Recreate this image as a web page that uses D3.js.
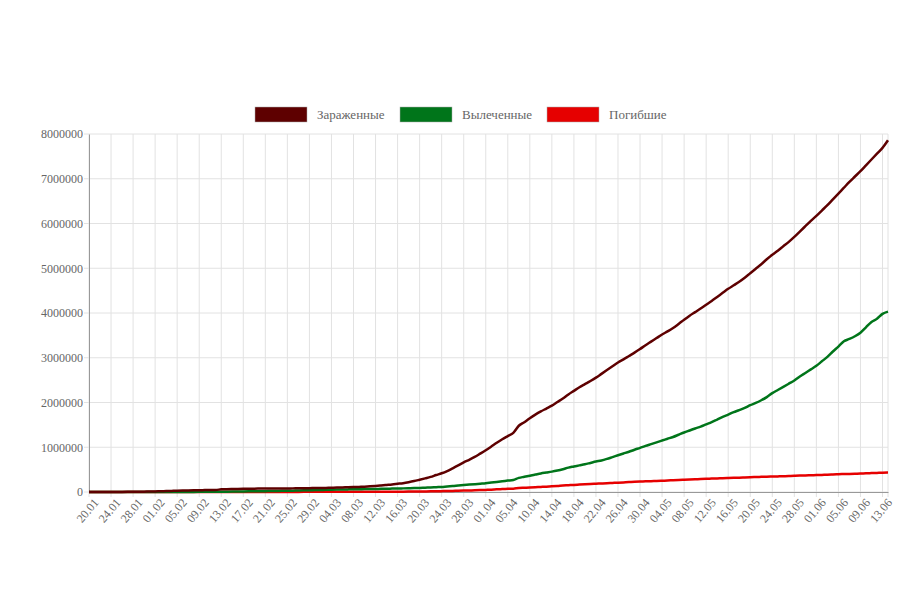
<!DOCTYPE html>
<html><head><meta charset="utf-8">
<script src="https://cdn.jsdelivr.net/npm/d3@7"></script>
<style>body{margin:0;background:#fff}text{font-family:"Liberation Serif",serif}</style>
</head><body><div id="chart"></div>
<script>
const startDate = new Date(2020, 0, 20, 12);
const fmt = d3.timeFormat("%d.%m");
// source data has no entry for 07.04
const labels = d3.range(147).map(i => fmt(d3.timeDay.offset(startDate, i))).filter(d => d !== "07.04");
const dayCount = labels.length;

// thousands
const infected = [0.3,0.4,0.6,0.7,0.9,1.4,2.1,2.9,5.6,6.2,8.2,9.9,
12,17,20,24,28,31,34,37,40,43,45,45,60,64,67,69,71,73,75,76,77,78,78,79,80,81,82,84,86,
88,90,92,95,98,102,106,110,114,119,126,135,146,157,168,183,198,219,244,274,305,337,379,418,468,530,594,661,720,783,857,
933,1015,1100,1180,1250,1320,1480,1560,1650,1730,1800,1865,1930,2010,2090,2180,2260,2340,2410,2480,2555,2640,2725,2810,2895,2965,3040,3115,3195,
3280,3360,3440,3520,3590,3665,3755,3850,3940,4020,4100,4185,4270,4360,4450,4540,4620,4700,4790,4890,4990,5090,5200,5300,5390,5490,5590,5700,5820,5940,6060,
6170,6290,6410,6540,6670,6800,6930,7050,7170,7300,7430,7560,7690,7860];
const recovered = [0,0,0,0,0,0,0.1,0.1,0.1,0.1,0.1,0.2,
0.3,0.5,0.6,0.9,1.2,1.5,2,2.6,3.3,4,4.7,5.2,6.3,8,9.4,10.9,12.6,14.4,16.2,18.2,18.8,22.7,23.4,25.2,27.9,30.4,33.3,36.7,39.8,
42.7,45.6,48.2,51.2,53.8,55.9,58.4,60.7,62.5,64.4,67,68,70,72,76,78,81,84,88,92,97,100,107,113,124,133,145,156,165,175,185,
195,210,225,240,255,270,315,340,365,390,415,435,455,480,510,545,570,595,620,650,680,705,740,780,820,860,900,945,985,
1030,1070,1110,1150,1190,1230,1280,1330,1375,1420,1460,1510,1560,1620,1680,1730,1785,1830,1880,1940,1990,2050,2120,2210,2280,2350,2420,2490,2580,2660,2740,
2820,2920,3020,3140,3250,3370,3420,3480,3560,3680,3800,3870,3980,4030];
const deaths = [0,0,0,0,0,0,0.1,0.1,0.1,0.1,0.2,0.2,
0.3,0.4,0.4,0.5,0.6,0.6,0.7,0.8,0.9,1,1.1,1.1,1.4,1.5,1.7,1.8,1.9,2,2.1,2.2,2.3,2.4,2.5,2.6,2.7,2.8,2.8,2.9,3,
3,3.1,3.2,3.3,3.4,3.5,3.6,3.8,4,4.3,4.6,5,5.4,5.8,6.5,7.2,8,9,10,12,13,15,17,19,22,25,28,31,34,38,42,
47,53,59,65,70,75,88,95,102,108,114,120,126,134,144,151,159,165,171,177,184,191,198,203,209,215,221,228,233,
238,243,247,252,257,264,270,276,281,285,289,294,300,304,309,313,316,320,325,329,334,339,343,346,349,353,357,362,367,371,375,
378,382,387,392,397,401,404,408,413,418,423,427,431,434];

const seriesNames = ["Зараженные", "Вылеченные", "Погибшие"];
const seriesColors = ["#5e0000", "#00751a", "#e60000"];
const seriesData = [infected, recovered, deaths];
const yTicks = d3.range(0, 8000001, 1000000);

const W = 921, H = 603;
const m = { l: 89, r: 33, t: 134, b: 111 };
const svg = d3.select("#chart").append("svg").attr("width", W).attr("height", H);

const x = d3.scalePoint().domain(labels).range([m.l, W - m.r]);
const y = d3.scaleLinear().domain([0, 8000000]).range([H - m.b, m.t]);
const tickLabels = labels.filter((d, i) => i % 4 === 0);

// grid
svg.append("g").selectAll("line").data(tickLabels.concat([labels[dayCount - 1]])).join("line")
  .attr("x1", d => x(d)).attr("x2", d => x(d)).attr("y1", m.t).attr("y2", H - m.b + 5)
  .attr("stroke", "#e2e2e2");
svg.append("g").selectAll("line").data(yTicks).join("line")
  .attr("x1", m.l - 5).attr("x2", W - m.r).attr("y1", d => y(d)).attr("y2", d => y(d))
  .attr("stroke", "#e2e2e2");

// axes
const yAxis = svg.append("g").attr("transform", `translate(${m.l},0)`)
  .call(d3.axisLeft(y).tickValues(yTicks).tickFormat(d3.format("d")).tickSize(0).tickPadding(6))
  .attr("font-family", "Liberation Serif, serif");
yAxis.select(".domain").attr("stroke", "#999");
yAxis.selectAll("text").attr("fill", "#666").style("font-size", "12px");

const xAxis = svg.append("g").attr("transform", `translate(0,${H - m.b})`)
  .call(d3.axisBottom(x).tickValues(tickLabels).tickSize(0).tickPadding(4))
  .attr("font-family", "Liberation Serif, serif");
xAxis.select(".domain").attr("stroke", "#999");
xAxis.selectAll("text").attr("fill", "#666").style("font-size", "12px")
  .attr("text-anchor", "end").attr("dy", "0.3em")
  .attr("transform", "translate(4,6) rotate(-50)");

// lines
const line = d3.line().x((d, i) => x(labels[i])).y(d => y(d * 1000)).curve(d3.curveMonotoneX);
[2, 1, 0].forEach(idx => {
  svg.append("path").datum(seriesData[idx]).attr("fill", "none")
    .attr("stroke", seriesColors[idx]).attr("stroke-width", 2.5).attr("d", line);
});

// legend
const legendX = [255, 400, 547];
const lg = svg.append("g");
seriesNames.forEach((n, i) => {
  lg.append("rect").attr("x", legendX[i]).attr("y", 107).attr("width", 52).attr("height", 15)
    .attr("fill", seriesColors[i]).attr("stroke", "#aaa").attr("stroke-width", 0.5);
  lg.append("text").attr("x", legendX[i] + 62).attr("y", 119).attr("fill", "#666")
    .style("font-size", "13px").text(n);
});
</script></body></html>
